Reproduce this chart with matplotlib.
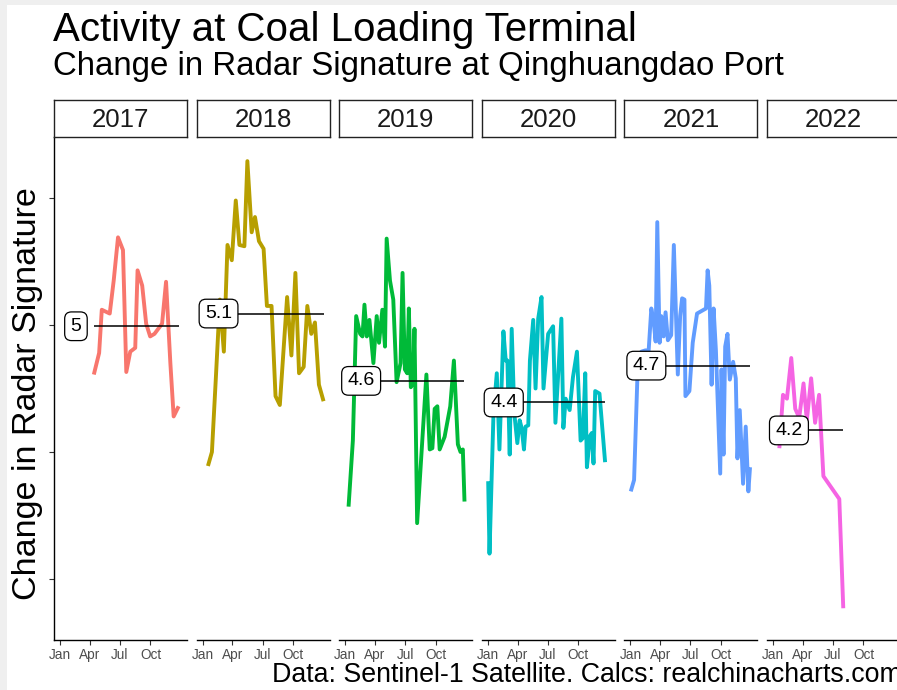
import matplotlib.pyplot as plt
from matplotlib.patches import Rectangle

plt.rcParams['font.family'] = ['Liberation Sans', 'DejaVu Sans']

# Radar signature readings, day of year -> value, one series per year
years = ['2017', '2018', '2019', '2020', '2021', '2022']

days_2017 = [102, 118, 126, 150, 162, 175, 190, 200, 212, 227, 234, 248, 260, 272, 285, 308, 320, 333, 343, 358]
vals_2017 = [4.61, 4.78, 5.12, 5.09, 5.35, 5.69, 5.59, 4.63, 4.79, 4.82, 5.43, 5.31, 5.01, 4.91, 4.93, 5.01, 5.34, 4.70, 4.28, 4.36]

days_2018 = [16, 28, 40, 52, 64, 75, 88, 100, 111, 126, 135, 148, 158, 170, 184, 194, 208, 220, 233, 255,
             268, 280, 291, 305, 316, 328, 339, 351, 365]
vals_2018 = [3.89, 4.00, 4.59, 5.20, 4.79, 5.63, 5.51, 5.98, 5.63, 5.62, 6.29, 5.73, 5.85, 5.66, 5.60, 5.15,
             5.15, 4.44, 4.37, 5.22, 4.76, 5.41, 4.62, 4.67, 5.15, 4.93, 5.02, 4.53, 4.40]

days_2019 = [10, 23, 33, 45, 52, 58, 65, 73, 85, 95, 102, 112, 120, 125, 135, 145, 155, 167, 173, 180,
             187, 192, 198, 205, 209, 217, 245, 255, 263, 270, 278, 285, 300, 317, 328, 340, 348, 355, 360]
vals_2019 = [3.57, 4.09, 5.07, 4.93, 4.91, 5.16, 4.91, 5.04, 4.70, 5.07, 4.86, 5.12, 4.83, 5.68, 5.35, 5.20,
             4.55, 4.70, 5.41, 4.65, 4.62, 5.13, 4.51, 4.55, 4.97, 3.44, 4.61, 4.02, 4.03, 4.34, 4.36, 4.02,
             4.12, 4.36, 4.72, 4.06, 4.00, 4.02, 3.61]

days_2020 = [1, 5, 17, 27, 35, 47, 54, 59, 66, 72, 80, 89, 96, 102, 109, 114, 122, 127, 137, 144, 152,
             162, 168, 182, 197, 204, 222, 228, 235, 247, 257, 269, 280, 287, 294, 299, 309, 314, 319, 324,
             337, 354]
vals_2020 = [3.77, 3.20, 4.30, 4.62, 4.02, 4.95, 4.72, 4.72, 3.98, 4.97, 4.30, 4.07, 4.25, 4.19, 4.02, 4.20,
             4.21, 4.72, 5.04, 4.50, 5.05, 5.22, 4.50, 4.93, 4.99, 4.23, 5.05, 4.19, 4.42, 4.33, 4.59, 4.79,
             4.09, 4.11, 4.62, 3.88, 4.13, 4.15, 3.91, 4.48, 4.46, 3.92]

days_2021 = [1, 11, 21, 33, 45, 55, 63, 70, 76, 81, 88, 93, 100, 106, 113, 123, 131, 143, 150, 156, 163,
             166, 178, 188, 201, 228, 233, 238, 245, 251, 258, 271, 275, 281, 286, 293, 300, 310, 318, 323,
             330, 340, 348, 356, 361]
vals_2021 = [3.69, 3.78, 4.59, 4.79, 4.80, 4.80, 5.13, 5.03, 4.87, 5.81, 4.86, 5.07, 4.91, 5.10, 4.88, 4.92,
             5.63, 4.61, 5.07, 5.21, 5.20, 4.44, 4.48, 4.86, 5.09, 5.13, 5.43, 5.31, 4.53, 5.13, 4.80, 3.83,
             4.65, 3.98, 4.83, 4.93, 4.57, 4.71, 4.58, 3.95, 4.33, 3.75, 4.20, 3.69, 3.88]

days_2022 = [19, 30, 42, 55, 67, 79, 92, 102, 115, 127, 139, 152, 200, 212]
vals_2022 = [4.03, 4.45, 4.42, 4.74, 4.34, 4.27, 4.54, 4.25, 4.58, 4.23, 4.45, 3.81, 3.63, 2.77]

all_days = [days_2017, days_2018, days_2019, days_2020, days_2021, days_2022]
all_vals = [vals_2017, vals_2018, vals_2019, vals_2020, vals_2021, vals_2022]

# Yearly averages and the labels shown on the chart
means = [4.99, 5.09, 4.56, 4.39, 4.68, 4.17]
mean_labels = ['5', '5.1', '4.6', '4.4', '4.7', '4.2']

colors = ['#F8766D', '#B79F00', '#00BA38', '#00BFC4', '#619CFF', '#F564E3']

month_days = [0, 90, 181, 273]
month_labels = ['Jan', 'Apr', 'Jul', 'Oct']

W, H = 897, 690
fig = plt.figure(figsize=(W / 100, H / 100), dpi=100)
fig.patch.set_facecolor('#efefef')
fig.add_artist(Rectangle((7 / W, 0), 1, 1 - 5 / H, transform=fig.transFigure,
                         facecolor='white', edgecolor='none', zorder=-5))

# Panel geometry in pixels (the right edge of the original is cropped)
panel_w = 133
panel_top, panel_bottom = 137, 640
strip_top = 100

for i, year in enumerate(years):
    left = 54 + i * 142.6
    ax = fig.add_axes([left / W, 1 - panel_bottom / H, panel_w / W, (panel_bottom - panel_top) / H])
    ax.set_facecolor('none')
    d, v = all_days[i], all_vals[i]
    ax.plot(d, v, color=colors[i], lw=2.8, solid_joinstyle='round', solid_capstyle='butt', zorder=2)
    ax.hlines(means[i], d[0], d[-1], color='black', lw=1.1, zorder=3)
    ax.text(48, means[i], mean_labels[i], ha='center', va='center', fontsize=14, zorder=4,
            bbox=dict(boxstyle='round,pad=0.3,rounding_size=0.35', fc='white', ec='black', lw=0.9))

    ax.set_xlim(-18.25, 383.25)
    ax.set_ylim(2.52, 6.48)
    ax.set_xticks(month_days)
    ax.set_xticklabels(month_labels)
    ax.set_yticks([3, 4, 5, 6])
    ax.set_yticklabels([])
    ax.tick_params(axis='x', length=3.5, width=0.8, color='#333333', labelsize=9.8,
                   labelcolor='#4d4d4d', pad=2)
    ax.tick_params(axis='y', length=3.5, width=0.8, color='#333333')
    for side in ['top', 'right']:
        ax.spines[side].set_visible(False)
    ax.spines['bottom'].set_linewidth(1.0)
    if i == 0:
        ax.spines['left'].set_linewidth(1.0)
    else:
        ax.spines['left'].set_visible(False)
        ax.tick_params(axis='y', left=False)

    # Facet strip above each panel
    sax = fig.add_axes([left / W, 1 - panel_top / H, panel_w / W, (panel_top - strip_top) / H])
    sax.set_xticks([])
    sax.set_yticks([])
    for sp in sax.spines.values():
        sp.set_linewidth(1.0)
        sp.set_color('#222222')
    sax.text(0.5, 0.45, year, ha='center', va='center', fontsize=18.5, color='#1a1a1a',
             transform=sax.transAxes)

fig.text(53 / W, 1 - 41 / H, 'Activity at Coal Loading Terminal', fontsize=29, va='baseline', ha='left')
fig.text(53 / W, 1 - 75 / H, 'Change in Radar Signature at Qinghuangdao Port', fontsize=23.8,
         va='baseline', ha='left')
fig.text(28 / W, 1 - 394 / H, 'Change in Radar Signature', fontsize=24.5, rotation=90,
         ha='center', va='center')
fig.text(902 / W, 1 - 682 / H, 'Data: Sentinel-1 Satellite. Calcs: realchinacharts.com', fontsize=19.3,
         ha='right', va='baseline')

plt.savefig('out.png', dpi=100)
